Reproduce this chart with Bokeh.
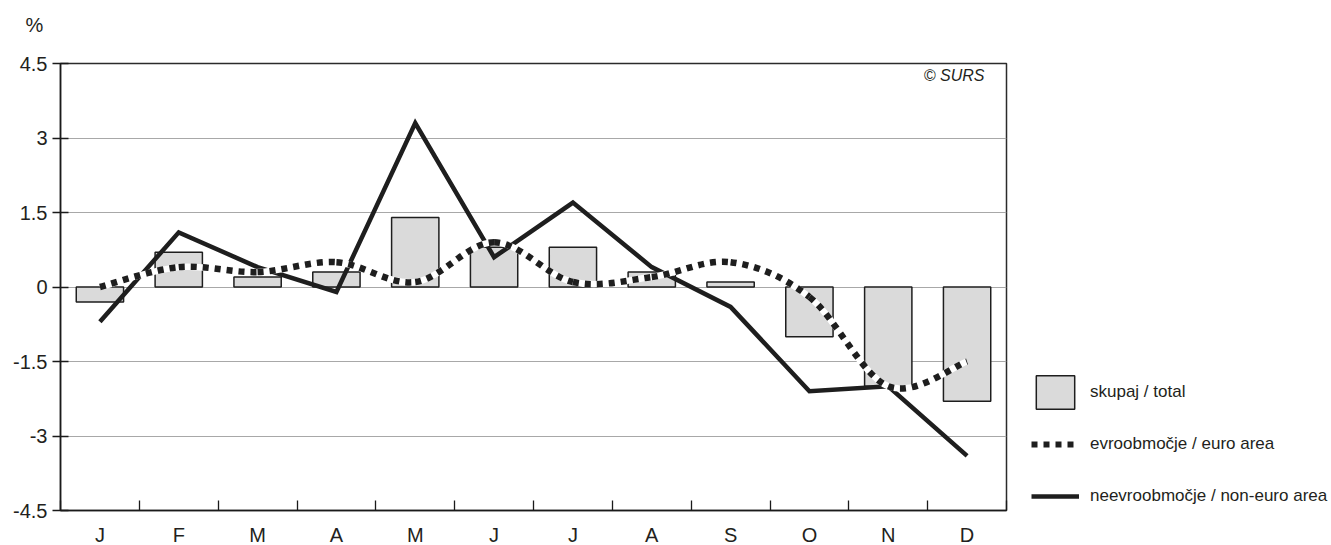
import numpy as np
from bokeh.plotting import figure
from bokeh.models import Range1d, FixedTicker, Legend, LegendItem, Label, ColumnDataSource
from bokeh.embed import file_html
from bokeh.resources import INLINE

# ---- data ----
months = ["J", "F", "M", "A", "M", "J", "J", "A", "S", "O", "N", "D"]
total = [-0.3, 0.7, 0.2, 0.3, 1.4, 0.8, 0.8, 0.3, 0.1, -1.0, -2.0, -2.3]
euro_area = [0.0, 0.4, 0.3, 0.5, 0.1, 0.9, 0.1, 0.2, 0.5, -0.2, -2.0, -1.5]
non_euro_area = [-0.7, 1.1, 0.4, -0.1, 3.3, 0.6, 1.7, 0.4, -0.4, -2.1, -2.0, -3.4]
y_ticks = [-4.5, -3, -1.5, 0, 1.5, 3, 4.5]
y_tick_labels = ["-4.5", "-3", "-1.5", "0", "1.5", "3", "4.5"]
grid_values = [-3, -1.5, 0, 1.5, 3]
legend_labels = ["skupaj / total", "evroobmočje / euro area", "neevroobmočje / non-euro area"]
unit_label = "%"
source_label = "© SURS"

TXT = "#231f20"
FONT = "Liberation Sans"

n = len(months)
xc = [i + 0.5 for i in range(n)]

p = figure(frame_width=946, frame_height=447, x_range=Range1d(0, n), y_range=Range1d(-4.5, 4.5),
           output_backend="svg", toolbar_location=None,
           min_border_left=60, min_border_right=10, min_border_top=63, min_border_bottom=30)
p.background_fill_color = "white"
p.border_fill_color = "white"
p.outline_line_color = "#2b2b2b"
p.outline_line_width = 1.5

# unit label as title (a blank second line lifts it to the top-left corner)
p.title.text = unit_label + "\n "
p.title.align = "left"
p.title.vertical_align = "top"
p.title.offset = -35
p.title.text_font = FONT
p.title.text_font_size = "20px"
p.title.text_font_style = "normal"
p.title.text_color = TXT
p.title.text_line_height = 1.2
p.title.standoff = 0

# grid
p.xgrid.visible = False
p.ygrid.ticker = FixedTicker(ticks=grid_values)
p.ygrid.grid_line_color = "#a8a8a8"
p.ygrid.grid_line_width = 1.2

# y axis
ya = p.yaxis[0]
ya.ticker = FixedTicker(ticks=y_ticks)
ya.major_label_overrides = {t: l for t, l in zip(y_ticks, y_tick_labels)}
ya.major_tick_in = 8
ya.major_tick_out = 8
ya.minor_tick_in = 0
ya.minor_tick_out = 0
ya.major_label_standoff = 5
ya.axis_line_color = "#1a1a1a"
ya.axis_line_width = 1.5
ya.major_tick_line_color = "#1a1a1a"
ya.major_tick_line_width = 1.3
ya.major_label_text_font = FONT
ya.major_label_text_font_size = "20px"
ya.major_label_text_color = TXT

# x axis: labels at month centres, ticks at month boundaries (minor)
xa = p.xaxis[0]
xa.ticker = FixedTicker(ticks=xc, minor_ticks=list(range(n + 1)))
xa.major_label_overrides = {x: m for x, m in zip(xc, months)}
xa.major_tick_in = 0
xa.major_tick_out = 0
xa.minor_tick_in = 10
xa.minor_tick_out = 0
xa.minor_tick_line_color = "#1a1a1a"
xa.minor_tick_line_width = 1.3
xa.major_label_standoff = 13
xa.axis_line_color = "#1a1a1a"
xa.axis_line_width = 1.5
xa.major_label_text_font = FONT
xa.major_label_text_font_size = "20px"
xa.major_label_text_color = TXT

# bars
src = ColumnDataSource(dict(x=xc, total=total, euro=euro_area, non=non_euro_area))
bars = p.vbar(x="x", top="total", bottom=0, width=0.6, source=src,
              fill_color="#dadada", line_color="#1e1e1e", line_width=1.5)

# non-euro (solid)
non_line = p.line(x="x", y="non", source=src, line_color="#1e1e1e", line_width=4.5,
                  line_join="miter")

# euro area: smoothed (Catmull-Rom -> Bezier) dotted line with white gaps
ex = np.array(xc, dtype=float)
ey = np.array(euro_area, dtype=float)
px = np.concatenate([[ex[0]], ex, [ex[-1]]])
py = np.concatenate([[ey[0]], ey, [ey[-1]]])
bz = dict(
    x0=ex[:-1], y0=ey[:-1], x1=ex[1:], y1=ey[1:],
    cx0=px[1:-2] + (px[2:-1] - px[:-3]) / 6.0,
    cy0=py[1:-2] + (py[2:-1] - py[:-3]) / 6.0,
    cx1=px[2:-1] - (px[3:] - px[1:-2]) / 6.0,
    cy1=py[2:-1] - (py[3:] - py[1:-2]) / 6.0,
)
bsrc = ColumnDataSource(bz)
p.bezier(x0="x0", y0="y0", x1="x1", y1="y1", cx0="cx0", cy0="cy0", cx1="cx1", cy1="cy1",
         source=bsrc, line_color="white", line_width=6.5)
p.bezier(x0="x0", y0="y0", x1="x1", y1="y1", cx0="cx0", cy0="cy0", cx1="cx1", cy1="cy1",
         source=bsrc, line_color="#1e1e1e", line_width=6.5, line_dash="6 6")

# legend proxies
euro_leg = p.line(x=[np.nan], y=[np.nan], line_color="#1e1e1e", line_width=6, line_dash="6 6")
non_leg = p.line(x=[np.nan], y=[np.nan], line_color="#1e1e1e", line_width=4.5)

legend = Legend(items=[LegendItem(label=legend_labels[0], renderers=[bars]),
                       LegendItem(label=legend_labels[1], renderers=[euro_leg]),
                       LegendItem(label=legend_labels[2], renderers=[non_leg])],
                location=(25, -7), orientation="vertical",
                glyph_width=48, glyph_height=42, label_standoff=11, spacing=10,
                padding=0, margin=0, border_line_color=None, background_fill_alpha=0,
                label_text_font=FONT, label_text_font_size="17px", label_text_color=TXT)
p.add_layout(legend, "right")

# source note
p.add_layout(Label(x=11.72, y=4.26, text=source_label, text_font=FONT, text_font_size="16px",
                   text_font_style="italic", text_color=TXT, text_align="right",
                   text_baseline="middle"))

html = file_html(p, INLINE, title="chart")
html = html.replace("</head>", "<style>html,body{overflow:hidden;}</style></head>", 1)
open("out.html", "w").write(html)
